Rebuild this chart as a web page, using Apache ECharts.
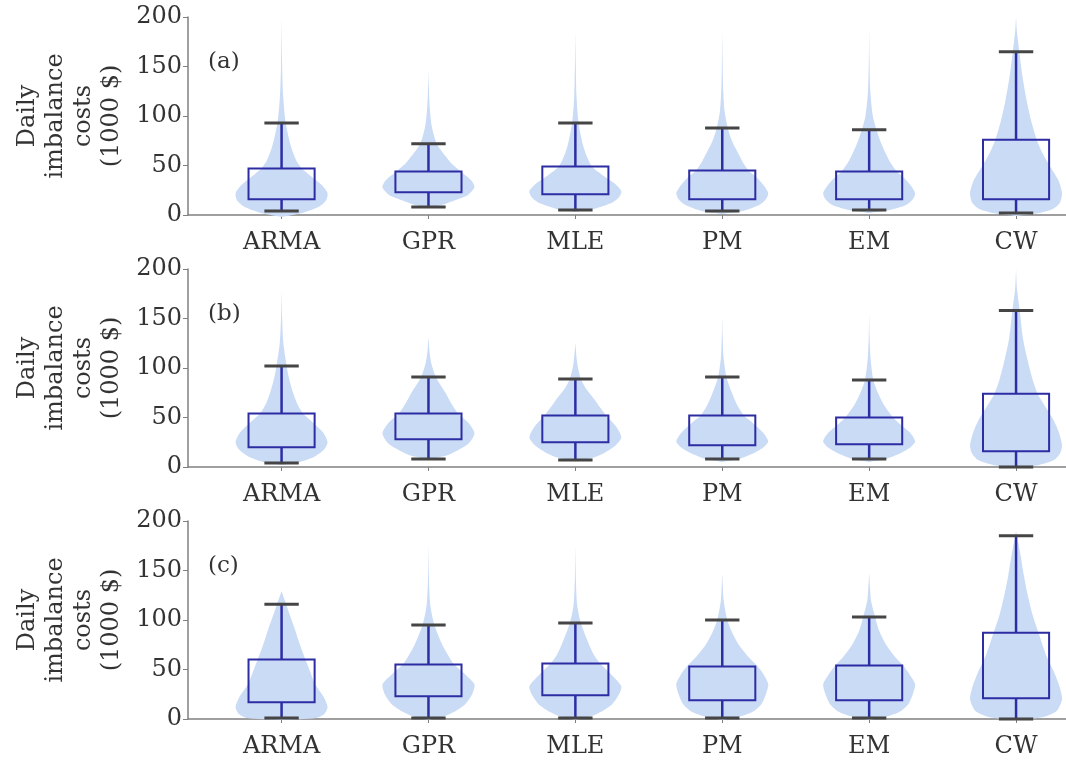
<!DOCTYPE html>
<html lang="en">
<head>
<meta charset="UTF-8" />
<title>Daily imbalance costs</title>
<script src="https://cdn.jsdelivr.net/npm/echarts@6/dist/echarts.min.js"></script>
<style>
  html, body { margin: 0; padding: 0; background: #fff; }
  #main { width: 1066px; height: 764px; }
</style>
</head>
<body>
<div id="main"></div>
<script type="text/javascript">
var methods = ['ARMA', 'GPR', 'MLE', 'PM', 'EM', 'CW'];
var panelLabels = ['(a)', '(b)', '(c)'];
var yTicks = [0, 50, 100, 150, 200];

// box stats per method: [lower cap, q1, q3, upper cap]
var boxA = [[4, 16, 47, 93], [8, 23, 44, 72], [5, 21, 49, 93], [4, 16, 45, 88], [5, 16, 44, 86], [2, 16, 76, 165]];
var boxB = [[4, 20, 54, 102], [8, 28, 54, 91], [7, 25, 52, 89], [8, 22, 52, 91], [8, 23, 50, 88], [0, 16, 74, 158]];
var boxC = [[1, 17, 60, 116], [1, 23, 55, 95], [1, 24, 56, 97], [1, 19, 53, 100], [1, 19, 54, 103], [0, 21, 87, 185]];

// violin profiles per method: [cost, relative density]
var violinA = [
  [[-2, 0], [2, 0.45], [8, 0.8], [15, 0.97], [22, 1], [30, 0.88], [40, 0.62], [47, 0.44], [55, 0.32], [70, 0.2], [93, 0.09], [120, 0.035], [150, 0.012], [180, 0.004], [200, 0]],
  [[7, 0], [10, 0.28], [15, 0.58], [20, 0.85], [28, 1], [35, 0.93], [44, 0.7], [52, 0.5], [60, 0.36], [72, 0.18], [90, 0.07], [110, 0.025], [130, 0.008], [148, 0]],
  [[3, 0], [6, 0.4], [12, 0.78], [18, 0.95], [24, 1], [32, 0.85], [40, 0.6], [49, 0.36], [58, 0.26], [70, 0.17], [93, 0.07], [120, 0.025], [150, 0.01], [185, 0]],
  [[1, 0], [4, 0.45], [10, 0.8], [16, 0.95], [22, 1], [30, 0.9], [38, 0.75], [45, 0.57], [53, 0.45], [62, 0.35], [75, 0.21], [88, 0.12], [105, 0.05], [130, 0.018], [160, 0.006], [188, 0]],
  [[2, 0], [5, 0.45], [10, 0.8], [16, 0.95], [22, 1], [30, 0.9], [38, 0.75], [44, 0.6], [53, 0.46], [62, 0.36], [75, 0.24], [86, 0.16], [100, 0.08], [125, 0.025], [155, 0.008], [190, 0]],
  [[-1, 0], [2, 0.5], [6, 0.8], [12, 0.95], [22, 1], [35, 0.92], [49, 0.74], [62, 0.58], [76, 0.45], [95, 0.33], [116, 0.23], [140, 0.14], [165, 0.07], [185, 0.02], [200, 0]]
];
var violinB = [
  [[2, 0], [5, 0.4], [10, 0.7], [18, 0.93], [25, 1], [35, 0.9], [45, 0.68], [54, 0.47], [64, 0.34], [75, 0.25], [90, 0.16], [102, 0.11], [125, 0.04], [150, 0.012], [178, 0]],
  [[8, 0], [11, 0.35], [16, 0.6], [24, 0.88], [34, 1], [44, 0.88], [54, 0.65], [64, 0.5], [75, 0.37], [91, 0.16], [105, 0.06], [118, 0.02], [132, 0]],
  [[6, 0], [9, 0.35], [14, 0.62], [22, 0.88], [30, 1], [40, 0.9], [52, 0.67], [60, 0.54], [68, 0.42], [78, 0.25], [89, 0.12], [105, 0.04], [125, 0]],
  [[5, 0], [8, 0.35], [14, 0.68], [20, 0.9], [26, 1], [35, 0.88], [45, 0.65], [52, 0.47], [62, 0.33], [75, 0.21], [91, 0.09], [110, 0.03], [130, 0.01], [152, 0]],
  [[5, 0], [8, 0.35], [14, 0.68], [20, 0.9], [26, 1], [35, 0.88], [43, 0.68], [50, 0.52], [62, 0.33], [75, 0.19], [88, 0.09], [110, 0.03], [130, 0.01], [155, 0]],
  [[-1, 0], [2, 0.5], [7, 0.82], [14, 0.96], [22, 1], [35, 0.93], [47, 0.82], [60, 0.65], [74, 0.47], [90, 0.35], [108, 0.25], [130, 0.15], [158, 0.08], [180, 0.02], [200, 0]]
];
var violinC = [
  [[-1, 0], [1, 0.75], [5, 0.93], [12, 1], [22, 0.92], [35, 0.73], [48, 0.62], [60, 0.52], [75, 0.4], [92, 0.28], [105, 0.18], [116, 0.1], [129, 0]],
  [[-1, 0], [2, 0.3], [7, 0.55], [15, 0.8], [25, 0.95], [35, 1], [45, 0.8], [55, 0.56], [65, 0.42], [75, 0.3], [95, 0.13], [115, 0.04], [140, 0.012], [177, 0]],
  [[-1, 0], [2, 0.3], [7, 0.55], [15, 0.8], [25, 0.95], [33, 1], [45, 0.78], [56, 0.54], [65, 0.4], [75, 0.3], [97, 0.12], [115, 0.04], [140, 0.012], [175, 0]],
  [[-1, 0], [2, 0.35], [7, 0.65], [15, 0.85], [25, 0.95], [35, 1], [45, 0.9], [53, 0.77], [62, 0.58], [75, 0.36], [88, 0.21], [100, 0.11], [120, 0.03], [147, 0]],
  [[-1, 0], [2, 0.35], [7, 0.65], [15, 0.85], [25, 0.95], [35, 1], [45, 0.88], [54, 0.74], [63, 0.56], [75, 0.37], [90, 0.21], [103, 0.13], [120, 0.04], [147, 0]],
  [[-1, 0], [2, 0.6], [8, 0.88], [20, 1], [35, 0.93], [48, 0.82], [65, 0.65], [87, 0.49], [105, 0.36], [126, 0.25], [145, 0.17], [165, 0.1], [180, 0.04], [190, 0]]
];

var panels = [
  { label: panelLabels[0], box: boxA, violin: violinA, top: 17 },
  { label: panelLabels[1], box: boxB, violin: violinB, top: 269 },
  { label: panelLabels[2], box: boxC, violin: violinC, top: 521 }
];

var FONT = '"DejaVu Serif", serif';
var TEXT = '#333';
var AXIS = '#808080';
var VIOLIN_FILL = '#cadbf5';
var BOX_LINE = '#2d2da3';
var CAP_LINE = '#454545';
var VIOLIN_HALF = 0.313;
var BOX_HALF = 0.225;
var CAP_HALF = 0.117;
var positions = methods.map(function (m, i) { return i + 1; });

function violinRender(profiles) {
  return function (params, api) {
    var pos = api.value(0);
    var prof = profiles[params.dataIndex];
    var right = [], left = [];
    prof.forEach(function (p) {
      right.push(api.coord([pos + p[1] * VIOLIN_HALF, p[0]]));
      left.unshift(api.coord([pos - p[1] * VIOLIN_HALF, p[0]]));
    });
    return {
      type: 'polygon',
      shape: { points: right.concat(left), smooth: 0.25 },
      style: { fill: VIOLIN_FILL }
    };
  };
}

function boxRender(params, api) {
  var pos = api.value(0);
  var lo = api.value(1), q1 = api.value(2), q3 = api.value(3), hi = api.value(4);
  var tl = api.coord([pos - BOX_HALF, q3]);
  var br = api.coord([pos + BOX_HALF, q1]);
  var c = function (v) { return api.coord([pos, v]); };
  var capL = function (v) { return api.coord([pos - CAP_HALF, v]); };
  var capR = function (v) { return api.coord([pos + CAP_HALF, v]); };
  var line = function (a, b, color, w) {
    return { type: 'line', shape: { x1: a[0], y1: a[1], x2: b[0], y2: b[1] }, style: { stroke: color, lineWidth: w } };
  };
  return {
    type: 'group',
    children: [
      line(c(lo), c(q1), BOX_LINE, 2.5),
      line(c(q3), c(hi), BOX_LINE, 2.5),
      { type: 'rect', shape: { x: tl[0], y: tl[1], width: br[0] - tl[0], height: br[1] - tl[1] },
        style: { fill: 'none', stroke: BOX_LINE, lineWidth: 2 } },
      line(capL(lo), capR(lo), CAP_LINE, 3),
      line(capL(hi), capR(hi), CAP_LINE, 3)
    ]
  };
}

var grids = [], xAxes = [], yAxes = [], series = [], graphics = [];
panels.forEach(function (p, k) {
  grids.push({ left: 188, right: 0, top: p.top, height: 198 });
  xAxes.push({
    type: 'value', gridIndex: k, min: 0.363, max: 6.34,
    axisLine: { lineStyle: { color: AXIS, width: 1.5 } },
    axisTick: { length: 4, customValues: positions, lineStyle: { color: AXIS } },
    axisLabel: {
      customValues: positions, margin: 16, fontSize: 24, fontFamily: FONT, color: TEXT,
      formatter: function (v) { return methods[Math.round(v) - 1]; }
    },
    splitLine: { show: false }
  });
  yAxes.push({
    type: 'value', gridIndex: k, min: yTicks[0], max: yTicks[yTicks.length - 1], interval: 50,
    name: 'Daily\nimbalance\ncosts\n(1000 $)', nameLocation: 'middle', nameRotate: 90, nameGap: 56,
    nameTextStyle: { fontSize: 24, fontFamily: FONT, color: TEXT, lineHeight: 28, align: 'center' },
    axisLine: { show: true, lineStyle: { color: AXIS, width: 1.5 } },
    axisTick: { show: true, length: 5, lineStyle: { color: AXIS } },
    axisLabel: { margin: 6, fontSize: 24, fontFamily: FONT, color: TEXT },
    splitLine: { show: false }
  });
  series.push({
    type: 'custom', xAxisIndex: k, yAxisIndex: k, silent: true,
    renderItem: violinRender(p.violin),
    data: positions.map(function (x) { return [x, 0]; }),
    encode: { x: 0, y: 1 }
  });
  series.push({
    type: 'custom', xAxisIndex: k, yAxisIndex: k, silent: true,
    renderItem: boxRender,
    data: p.box.map(function (b, i) { return [positions[i]].concat(b); }),
    encode: { x: 0, y: [1, 2, 3, 4] }
  });
  graphics.push({
    type: 'text', x: 208, y: p.top + 45,
    style: { text: p.label, fontSize: 23, fontFamily: FONT, fill: TEXT, verticalAlign: 'middle' }
  });
});

var chart = echarts.init(document.getElementById('main'));
chart.setOption({
  animation: false,
  backgroundColor: '#fff',
  grid: grids,
  xAxis: xAxes,
  yAxis: yAxes,
  series: series,
  graphic: graphics
});
</script>
</body>
</html>
